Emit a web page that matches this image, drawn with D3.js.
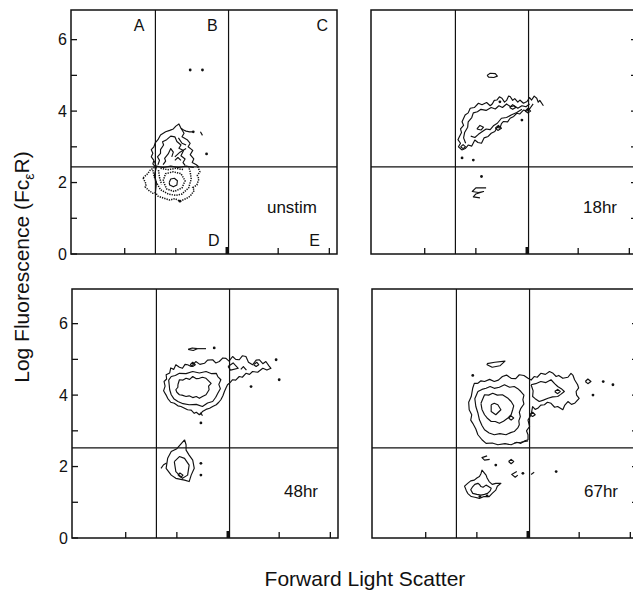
<!doctype html>
<html>
<head>
<meta charset="utf-8">
<title>Forward light scatter vs log fluorescence</title>
<script src="https://cdnjs.cloudflare.com/ajax/libs/d3/7.8.5/d3.min.js"></script>
<style>
  body { margin: 0; background: #fff; }
  svg text { font-family: "Liberation Sans", Arial, Helvetica, sans-serif; fill: #111; }
</style>
</head>
<body>
<div id="chart"></div>
<script>

// panels, gates and axes
const panelNames = ["unstim", "18hr", "48hr", "67hr"];
const yMax = [6.83, 6.83, 6.97, 6.97];
const gateX = [1.6, 3.03];
const gateY = [2.44, 2.44, 2.52, 2.52];
const xTicks = [1, 2, 3, 4, 5];
const yTicks = [0, 1, 2, 3, 4, 5, 6];
const yLabels = [0, 2, 4, 6];
const regionLetters = ["A", "B", "C", "D", "E"];

// contour lines, [forward scatter, log fluorescence]
const unstimLines = [
  [[1.6,2.44],[1.55,2.52],[1.57,2.62],[1.52,2.72],[1.55,2.82],[1.52,2.92],[1.57,3.0],[1.6,3.12],[1.65,3.2],[1.7,3.33],[1.8,3.42],[1.88,3.46],[1.95,3.5],[2.0,3.58],[2.06,3.64],[2.1,3.52],[2.15,3.47],[2.2,3.44],[2.27,3.42],[2.32,3.42]],
  [[2.1,3.52],[2.16,3.38],[2.12,3.28],[2.22,3.2],[2.28,3.1],[2.24,3.0],[2.33,2.9],[2.28,2.78],[2.35,2.66],[2.32,2.56],[2.4,2.5],[2.45,2.44]],
  [[1.65,2.5],[1.68,2.62],[1.64,2.72],[1.7,2.82],[1.7,2.92],[1.76,3.05],[1.74,3.14],[1.82,3.2],[1.9,3.3],[1.98,3.28],[2.02,3.15],[2.1,3.05],[2.06,2.96],[2.15,2.9],[2.1,2.75],[2.18,2.66],[2.14,2.56],[2.18,2.48]],
  [[1.75,2.5],[1.8,2.6],[1.78,2.68],[1.85,2.8],[1.9,2.95],[1.95,2.85],[1.92,2.72]],
  [[1.98,2.72],[2.08,2.85],[2.2,2.95]],
  [[1.98,2.62],[2.04,2.7],[2.1,2.62]],
  [[2.05,3.25],[2.12,3.1],[2.2,3.05]],
  [[2.48,3.42],[2.52,3.32]],
  [[1.87,2.0],[1.9,2.1],[1.97,2.12],[2.03,2.05],[2.02,1.93],[1.95,1.88],[1.88,1.93],[1.87,2.0]],
  [[1.6,1.7],[1.62,2.0],[1.58,2.2],[1.62,2.44],[1.58,2.6]],
  [[1.62,2.46],[1.75,2.42],[1.9,2.46],[2.05,2.42],[2.2,2.46],[2.35,2.42]]
];
const unstimDotted = [
  [[1.36,2.13],[1.42,1.95],[1.4,1.88],[1.46,1.79],[1.55,1.7],[1.6,1.72],[1.65,1.62],[1.77,1.56],[1.88,1.51],[1.98,1.55],[2.08,1.48],[2.2,1.55],[2.28,1.62],[2.36,1.78],[2.33,1.86],[2.41,1.93],[2.45,2.1],[2.42,2.2],[2.47,2.3],[2.43,2.44]],
  [[1.36,2.13],[1.45,2.25],[1.5,2.35],[1.6,2.44]],
  [[1.55,2.35],[1.58,2.15],[1.62,2.0],[1.7,1.8],[1.85,1.68],[2.0,1.64],[2.12,1.68],[2.25,1.85],[2.3,2.1],[2.28,2.3],[2.25,2.44]],
  [[1.75,2.05],[1.8,2.25],[1.95,2.3],[2.1,2.25],[2.18,2.05],[2.12,1.85],[1.97,1.75],[1.82,1.82],[1.75,2.05]],
  [[1.66,2.35],[1.68,2.15],[1.72,1.95]],
  [[1.7,2.4],[1.85,2.36],[2.0,2.4],[2.15,2.36]]
];
const unstimDots = [[2.28,5.15],[2.52,5.15],[2.08,1.48],[2.6,2.8],[2.34,3.42]];

const hr18Lines = [
  [[2.22,5.0],[2.28,5.06],[2.38,5.05],[2.42,4.98],[2.35,4.94],[2.25,4.95],[2.22,5.0]],
  [[1.73,2.91],[1.66,3.0],[1.7,3.1],[1.65,3.2],[1.68,3.29],[1.72,3.4],[1.7,3.5],[1.76,3.6],[1.73,3.7],[1.79,3.89],[1.85,3.95],[1.89,4.08],[1.97,4.1],[2.05,4.22],[2.12,4.18],[2.21,4.24],[2.28,4.15],[2.32,4.2],[2.36,4.3],[2.41,4.31],[2.46,4.4],[2.51,4.36],[2.56,4.25],[2.6,4.3],[2.64,4.42],[2.67,4.41],[2.72,4.3],[2.76,4.35],[2.82,4.25],[2.86,4.31],[2.93,4.22],[3.0,4.27],[3.05,4.38],[3.09,4.31],[3.14,4.42],[3.19,4.36],[3.22,4.25],[3.25,4.3],[3.32,4.15]],
  [[1.73,2.91],[1.8,2.96],[1.85,3.05],[1.92,3.02],[1.98,3.19],[2.04,3.12],[2.11,3.1],[2.16,3.25],[2.24,3.29],[2.3,3.38],[2.37,3.43],[2.42,3.55],[2.47,3.52],[2.5,3.65],[2.54,3.71],[2.62,3.7],[2.67,3.8],[2.74,3.85],[2.8,3.94],[2.86,3.92],[2.93,4.03],[3.0,4.0],[3.06,4.08],[3.12,4.2]],
  [[1.8,3.1],[1.76,3.25],[1.78,3.4],[1.84,3.55],[1.85,3.7],[1.92,3.82],[1.95,3.95],[2.03,3.98],[2.1,4.05],[2.2,4.02],[2.3,4.1],[2.38,4.06],[2.45,4.15],[2.52,4.1],[2.6,4.2],[2.68,4.12],[2.75,4.15],[2.82,4.08],[2.9,4.15],[2.98,4.12],[3.05,4.2]],
  [[1.9,3.3],[1.98,3.26],[2.05,3.35],[2.12,3.42],[2.2,3.5],[2.28,3.48],[2.35,3.6],[2.42,3.66],[2.5,3.8],[2.6,3.82],[2.7,3.9],[2.8,3.96],[2.9,4.05]],
  [[2.02,3.5],[2.08,3.6],[2.15,3.55],[2.1,3.47],[2.02,3.5]],
  [[2.38,3.52],[2.44,3.6],[2.5,3.52],[2.43,3.46],[2.38,3.52]],
  [[2.66,4.1],[2.72,4.18],[2.78,4.1],[2.72,4.05],[2.66,4.1]],
  [[2.96,4.0],[3.02,4.08],[3.07,4.0],[3.02,3.95],[2.96,4.0]],
  [[1.7,3.0],[1.75,3.06],[1.8,3.0],[1.75,2.95],[1.7,3.0]],
  [[2.2,1.85],[2.0,1.85],[1.93,1.75],[2.05,1.72],[2.15,1.75],[2.0,1.68],[1.95,1.6],[2.08,1.57]]
];
const hr18Dots = [[2.47,4.26],[2.9,3.75],[1.73,2.69],[1.95,2.63],[2.11,2.17]];

const hr48Lines = [
  [[2.22,5.28],[2.3,5.32],[2.4,5.3],[2.32,5.25],[2.22,5.28]],
  [[2.4,5.3],[2.57,5.3]],
  [[1.79,4.0],[1.74,4.12],[1.77,4.25],[1.75,4.38],[1.8,4.45],[1.79,4.57],[1.86,4.62],[1.88,4.76],[1.94,4.72],[1.98,4.85],[2.05,4.78],[2.11,4.75],[2.16,4.86],[2.21,4.85],[2.28,4.8],[2.37,4.94],[2.45,4.86],[2.54,4.89],[2.6,4.98],[2.7,4.99],[2.76,4.9],[2.83,4.94],[2.9,5.04],[2.96,5.03],[3.02,4.95],[3.09,5.08],[3.15,5.0],[3.22,4.99],[3.28,5.1],[3.35,5.08],[3.4,4.92],[3.48,4.85],[3.55,4.98],[3.61,4.99],[3.68,4.88],[3.74,4.94],[3.8,4.82],[3.84,4.75],[3.76,4.7],[3.68,4.75],[3.58,4.64],[3.48,4.66],[3.42,4.58],[3.35,4.61],[3.28,4.5],[3.22,4.52],[3.15,4.42],[3.09,4.43],[3.04,4.35],[2.99,4.29],[2.96,4.2],[2.93,4.1],[2.9,3.98],[2.86,3.87],[2.82,3.8],[2.77,3.73],[2.7,3.68],[2.64,3.63],[2.57,3.6],[2.5,3.54],[2.47,3.48],[2.44,3.45],[2.38,3.52],[2.34,3.49],[2.28,3.58],[2.21,3.59],[2.14,3.64],[2.08,3.68],[2.02,3.7],[1.95,3.77],[1.88,3.8],[1.82,3.91],[1.79,4.0]],
  [[1.85,4.29],[1.84,4.42],[1.89,4.52],[1.97,4.55],[2.05,4.61],[2.18,4.6],[2.31,4.66],[2.44,4.62],[2.57,4.66],[2.68,4.6],[2.77,4.61],[2.8,4.52],[2.86,4.43],[2.82,4.3],[2.85,4.18],[2.8,4.05],[2.76,3.94],[2.7,3.82],[2.6,3.78],[2.5,3.68],[2.38,3.74],[2.24,3.73],[2.12,3.76],[2.02,3.82],[1.94,3.9],[1.89,4.01],[1.86,4.15],[1.85,4.29]],
  [[2.02,4.29],[2.05,4.43],[2.12,4.42],[2.18,4.47],[2.25,4.44],[2.31,4.52],[2.38,4.46],[2.44,4.47],[2.5,4.5],[2.57,4.47],[2.62,4.4],[2.67,4.33],[2.62,4.25],[2.63,4.15],[2.6,4.08],[2.57,4.01],[2.5,3.96],[2.44,3.91],[2.38,3.96],[2.31,3.93],[2.24,3.98],[2.18,3.96],[2.1,4.0],[2.05,4.01],[2.0,4.08],[1.98,4.15],[2.02,4.22],[2.02,4.29]],
  [[2.26,4.85],[2.31,4.92],[2.36,4.85],[2.31,4.8],[2.26,4.85]],
  [[3.5,4.85],[3.56,4.92],[3.6,4.85],[3.55,4.8],[3.5,4.85]],
  [[3.0,4.8],[3.1,4.9],[3.2,4.75],[3.05,4.7],[3.0,4.8]],
  [[3.25,4.72],[3.3,4.8],[3.36,4.7]],
  [[2.44,3.45],[2.47,3.5],[2.5,3.42]],
  [[2.15,2.75],[2.18,2.61],[2.18,2.46],[2.24,2.32],[2.31,2.18],[2.34,1.95],[2.28,1.76],[2.24,1.58],[2.15,1.62],[1.98,1.67],[1.89,1.76],[1.79,1.95],[1.82,2.23],[1.89,2.42],[2.0,2.5],[2.15,2.75]],
  [[1.95,2.14],[1.98,1.86],[2.11,1.67],[2.21,1.76],[2.24,2.04],[2.15,2.23],[2.05,2.28],[1.95,2.14]],
  [[2.02,1.76],[2.06,1.82],[2.12,1.76],[2.08,1.7],[2.02,1.76]],
  [[1.69,1.95],[1.74,2.05],[1.8,2.1]]
];
const hr48Dots = [[2.73,5.32],[3.94,4.99],[4.0,4.43],[3.45,4.24],[2.47,3.22],[2.47,2.09],[2.47,1.76]];

const hr67Lines = [
  [[2.2,4.88],[2.35,4.92],[2.55,4.95],[2.45,4.82],[2.3,4.78],[2.2,4.85],[2.2,4.88]],
  [[2.02,4.33],[1.95,4.33],[1.92,4.2],[1.89,3.96],[1.84,3.8],[1.85,3.59],[1.9,3.45],[1.88,3.3],[1.92,3.21],[1.98,3.05],[2.02,2.89],[2.1,2.75],[2.18,2.65],[2.3,2.66],[2.41,2.61],[2.55,2.64],[2.67,2.61],[2.78,2.68],[2.86,2.65],[2.94,2.72],[3.0,2.75],[3.0,2.89],[2.97,3.0],[3.03,3.12],[3.0,3.3],[3.06,3.45],[3.09,3.68],[3.14,3.6],[3.19,3.63],[3.25,3.72],[3.32,3.73],[3.38,3.8],[3.45,3.77],[3.52,3.66],[3.58,3.68],[3.68,3.59],[3.72,3.72],[3.78,3.82],[3.85,3.74],[3.91,3.77],[4.0,3.91],[3.95,4.0],[3.94,4.1],[3.99,4.2],[3.97,4.29],[3.91,4.43],[3.88,4.55],[3.84,4.61],[3.78,4.5],[3.68,4.47],[3.6,4.55],[3.55,4.52],[3.48,4.62],[3.42,4.66],[3.34,4.58],[3.25,4.61],[3.18,4.5],[3.12,4.52],[3.06,4.42],[3.0,4.47],[2.92,4.55],[2.83,4.57],[2.76,4.46],[2.67,4.47],[2.58,4.56],[2.5,4.52],[2.42,4.42],[2.34,4.38],[2.25,4.44],[2.15,4.38],[2.08,4.4],[2.02,4.33]],
  [[2.02,4.1],[1.96,3.9],[1.98,3.68],[2.02,3.5],[2.05,3.31],[2.1,3.15],[2.15,3.03],[2.24,2.94],[2.34,2.89],[2.45,2.92],[2.57,2.89],[2.66,2.95],[2.73,2.98],[2.8,3.08],[2.83,3.17],[2.82,3.28],[2.85,3.4],[2.83,3.52],[2.86,3.63],[2.92,3.75],[2.9,3.87],[2.92,4.0],[2.86,4.1],[2.8,4.18],[2.73,4.24],[2.64,4.22],[2.54,4.29],[2.44,4.22],[2.34,4.19],[2.26,4.24],[2.18,4.19],[2.1,4.16],[2.02,4.1]],
  [[2.08,3.77],[2.15,4.01],[2.23,4.0],[2.31,4.05],[2.4,4.0],[2.5,4.01],[2.6,3.92],[2.67,3.82],[2.72,3.7],[2.7,3.59],[2.67,3.45],[2.6,3.35],[2.52,3.27],[2.44,3.21],[2.36,3.26],[2.28,3.26],[2.2,3.36],[2.15,3.45],[2.1,3.6],[2.08,3.77]],
  [[2.28,3.73],[2.34,3.77],[2.41,3.73],[2.47,3.59],[2.37,3.45],[2.28,3.54],[2.28,3.73]],
  [[3.06,4.29],[3.15,4.32],[3.25,4.38],[3.35,4.35],[3.45,4.43],[3.52,4.32],[3.58,4.24],[3.65,4.18],[3.71,4.1],[3.64,4.02],[3.58,3.96],[3.48,3.95],[3.39,3.91],[3.3,3.86],[3.22,3.82],[3.14,3.9],[3.09,3.96],[3.1,4.12],[3.06,4.29]],
  [[4.12,4.38],[4.17,4.45],[4.23,4.38],[4.17,4.32],[4.12,4.38]],
  [[3.03,3.45],[3.09,3.52],[3.14,3.45],[3.09,3.4],[3.03,3.45]],
  [[2.62,3.36],[2.67,3.42],[2.72,3.36],[2.67,3.3],[2.62,3.36]],
  [[3.52,4.1],[3.58,4.16],[3.63,4.1],[3.58,4.04],[3.52,4.1]],
  [[2.73,2.66],[2.86,2.68],[3.0,2.72]],
  [[2.2,2.3],[2.1,2.25],[2.15,2.18],[2.25,2.2]],
  [[2.62,2.14],[2.67,2.2],[2.72,2.14],[2.67,2.08],[2.62,2.14]],
  [[2.78,1.86],[2.68,1.78],[2.75,1.7],[2.8,1.76]],
  [[3.06,1.78],[3.12,1.84]],
  [[1.82,1.53],[1.76,1.45],[1.79,1.34],[1.82,1.25],[1.89,1.16],[1.96,1.14],[2.05,1.11],[2.14,1.16],[2.24,1.16],[2.3,1.25],[2.37,1.34],[2.4,1.45],[2.47,1.53],[2.37,1.53],[2.3,1.5],[2.24,1.58],[2.2,1.68],[2.18,1.76],[2.1,1.9],[2.08,1.8],[2.05,1.72],[2.0,1.68],[1.95,1.62],[1.88,1.6],[1.82,1.53]],
  [[1.92,1.44],[1.88,1.35],[1.92,1.25],[2.0,1.22],[2.08,1.2],[2.15,1.22],[2.21,1.25],[2.26,1.32],[2.28,1.39],[2.22,1.45],[2.18,1.48],[2.12,1.42],[2.08,1.44],[2.05,1.5],[2.02,1.53],[1.96,1.5],[1.92,1.44]]
];
const hr67Dots = [[4.27,4.0],[4.47,4.38],[4.66,4.29],[2.37,2.04],[2.9,1.81],[3.55,1.86],[1.92,4.55],[2.06,1.16],[2.2,1.18]];

const panelLines = [unstimLines, hr18Lines, hr48Lines, hr67Lines];
const panelDotted = [unstimDotted, [], [], []];
const panelDots = [unstimDots, hr18Dots, hr48Dots, hr67Dots];

// layout
const W = 266;
const frames = [
  {x: 71, y: 10, h: 244},
  {x: 371, y: 10, h: 244},
  {x: 72, y: 289, h: 249},
  {x: 372, y: 289, h: 249}
];
const ink = "#111";

const svg = d3.select("#chart")
  .append("svg")
  .attr("width", 633)
  .attr("height", 590);

panelNames.forEach((name, i) => {
  const f = frames[i];
  const isLeft = i % 2 === 0;

  const x = d3.scaleLinear().domain([-0.05, 5.15]).range([f.x, f.x + W]);
  const y = d3.scaleLinear().domain([0, yMax[i]]).range([f.y + f.h, f.y]);

  const g = svg.append("g");

  // gates
  gateX.forEach(v => {
    g.append("line")
      .attr("x1", x(v)).attr("x2", x(v))
      .attr("y1", f.y).attr("y2", f.y + f.h)
      .attr("stroke", ink).attr("stroke-width", 1.2);
  });
  g.append("line")
    .attr("x1", f.x).attr("x2", f.x + W)
    .attr("y1", y(gateY[i])).attr("y2", y(gateY[i]))
    .attr("stroke", ink).attr("stroke-width", 1.2);

  // x ticks
  g.selectAll(".xt")
    .data(xTicks)
    .join("line")
    .attr("x1", d => x(d)).attr("x2", d => x(d))
    .attr("y1", f.y + f.h).attr("y2", d => f.y + f.h - (d === 3 ? 7 : 6))
    .attr("stroke", ink)
    .attr("stroke-width", d => d === 3 ? 3 : 1.3);

  // y ticks
  if (isLeft) {
    g.selectAll(".yt")
      .data(yTicks)
      .join("line")
      .attr("x1", f.x).attr("x2", f.x + 6)
      .attr("y1", d => y(d)).attr("y2", d => y(d))
      .attr("stroke", ink).attr("stroke-width", 1.3);
    g.selectAll(".yl")
      .data(yLabels)
      .join("text")
      .attr("x", f.x - 4)
      .attr("y", d => y(d))
      .attr("dy", "0.36em")
      .attr("text-anchor", "end")
      .attr("font-size", 16)
      .text(d => d);
  } else {
    g.selectAll(".yt")
      .data(yTicks.filter(d => d > 0))
      .join("line")
      .attr("x1", f.x + W - 6).attr("x2", f.x + W)
      .attr("y1", d => y(d)).attr("y2", d => y(d))
      .attr("stroke", ink).attr("stroke-width", 1.3);
  }

  // frame
  g.append("rect")
    .attr("x", f.x).attr("y", f.y)
    .attr("width", W).attr("height", f.h)
    .attr("fill", "none")
    .attr("stroke", ink).attr("stroke-width", 1.5);

  // contours
  const line = d3.line().x(d => x(d[0])).y(d => y(d[1]));

  g.selectAll(".c")
    .data(panelLines[i])
    .join("path")
    .attr("d", line)
    .attr("fill", "none")
    .attr("stroke", ink)
    .attr("stroke-width", 1.15)
    .attr("stroke-linejoin", "round");

  g.selectAll(".cd")
    .data(panelDotted[i])
    .join("path")
    .attr("d", line)
    .attr("fill", "none")
    .attr("stroke", ink)
    .attr("stroke-width", 1.5)
    .attr("stroke-dasharray", "1.3,1.1");

  g.selectAll(".dot")
    .data(panelDots[i])
    .join("circle")
    .attr("cx", d => x(d[0]))
    .attr("cy", d => y(d[1]))
    .attr("r", 1.4)
    .attr("fill", ink);

  // condition label
  g.append("text")
    .attr("x", f.x + W - 20)
    .attr("y", f.y + f.h - 41)
    .attr("text-anchor", "end")
    .attr("font-size", 17)
    .text(name);

  // region letters in the first panel
  if (i === 0) {
    const letterPos = [
      [x(gateX[0]) - 11, f.y + 21],
      [x(gateX[1]) - 11, f.y + 21],
      [f.x + W - 9, f.y + 21],
      [x(gateX[1]) - 9, f.y + f.h - 8],
      [f.x + W - 17, f.y + f.h - 8]
    ];
    g.selectAll(".rl")
      .data(regionLetters)
      .join("text")
      .attr("x", (d, k) => letterPos[k][0])
      .attr("y", (d, k) => letterPos[k][1])
      .attr("text-anchor", "end")
      .attr("font-size", 16)
      .text(d => d);
  }
});

// axis titles
svg.append("text")
  .attr("x", 365)
  .attr("y", 586)
  .attr("text-anchor", "middle")
  .attr("font-size", 21)
  .text("Forward Light Scatter");

const yTitle = svg.append("text")
  .attr("transform", "translate(29,267) rotate(-90)")
  .attr("text-anchor", "middle")
  .attr("font-size", 21);
yTitle.append("tspan").text("Log Fluorescence (Fc");
yTitle.append("tspan").attr("font-size", 14).attr("dy", 5).text("ε");
yTitle.append("tspan").attr("dy", -5).text("R)");

</script>
</body>
</html>
